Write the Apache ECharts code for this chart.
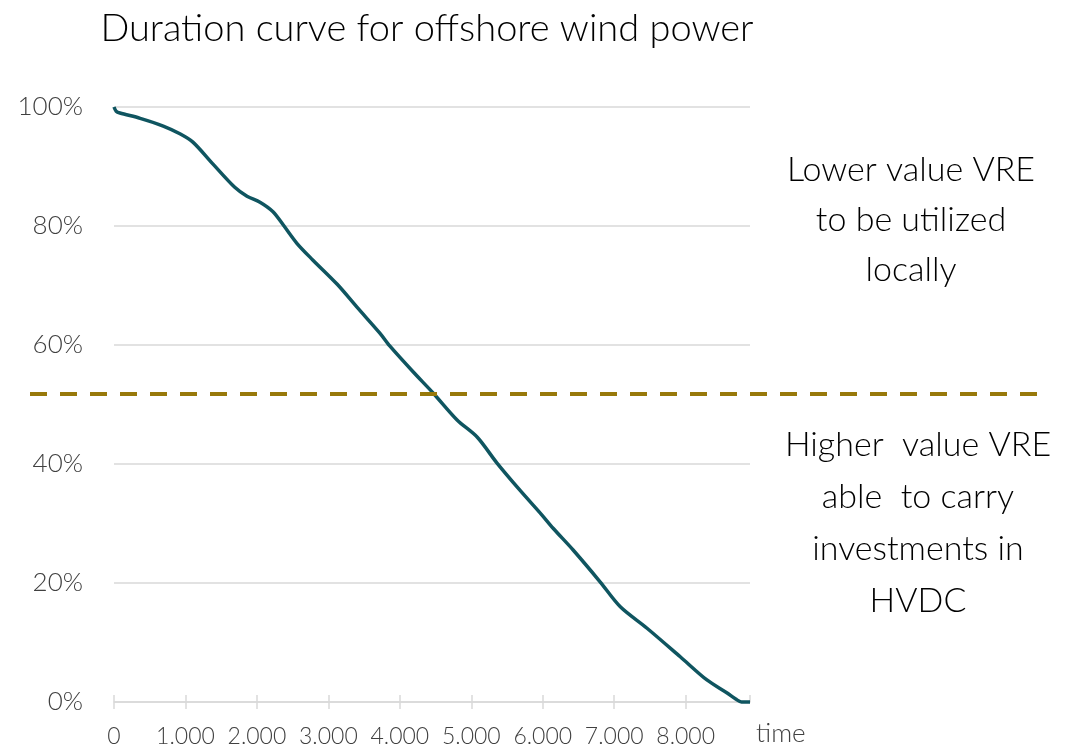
<!DOCTYPE html>
<html>
<head>
<meta charset="utf-8">
<script src="https://cdn.jsdelivr.net/npm/echarts@6/dist/echarts.min.js"></script>
<style>
html,body{margin:0;padding:0;background:#fff;}
#chart{width:1079px;height:748px;}
</style>
</head>
<body>
<div id="chart"></div>
<script>
// Hours of the year (sorted duration) and share of installed capacity (%)
var hours = [0, 30, 83, 366, 689, 922, 1104, 1386, 1690, 1861, 2043, 2225, 2367, 2559, 2781, 3124, 3397, 3720, 3862, 4185, 4468, 4801, 5084, 5357, 5680, 5983, 6145, 6428, 6802, 7085, 7459, 7924, 8297, 8580, 8700, 8780, 8900];
var output = [100, 99.3, 99.0, 98.1, 96.8, 95.5, 94.1, 90.4, 86.5, 85.0, 84.0, 82.4, 80.2, 77.1, 74.3, 70.2, 66.4, 62.0, 59.8, 55.5, 51.9, 47.4, 44.5, 40.2, 35.6, 31.5, 29.2, 25.5, 20.2, 16.0, 12.4, 7.6, 3.7, 1.5, 0.5, 0, 0];
var threshold = 51.8;
var titleText = 'Duration curve for offshore wind power';
var xAxisName = 'time';
var upperNote = 'Lower value VRE\nto be utilized\nlocally';
var lowerNote = 'Higher  value VRE\nable  to carry\ninvestments in\nHVDC';

var seriesData = hours.map(function (h, i) { return [h, output[i]]; });

var FONT = 'Lato, "Open Sans", sans-serif';
var chart = echarts.init(document.getElementById('chart'), null, {renderer: 'canvas'});

function fmtThousands(v) {
  if (v === 0) return '0';
  var s = String(Math.round(v));
  return s.replace(/\B(?=(\d{3})+(?!\d))/g, '.');
}

chart.setOption({
  animation: false,
  backgroundColor: '#ffffff',
  title: {
    text: titleText,
    left: 422,
    textAlign: 'center',
    top: 5,
    textStyle: {fontFamily: FONT, fontWeight: 300, fontSize: 38, color: '#000000'}
  },
  grid: {left: 114, right: 329, top: 107, bottom: 46, containLabel: false},
  xAxis: [{
    type: 'value',
    min: 0,
    max: 8900,
    interval: 1000,
    name: xAxisName,
    nameLocation: 'end',
    nameGap: 6,
    nameTextStyle: {fontFamily: FONT, fontWeight: 300, fontSize: 26, color: '#404040', align: 'left', verticalAlign: 'top', padding: [19, 0, 0, 0]},
    axisLine: {show: true, lineStyle: {color: '#d9d9d9', width: 1.5}},
    axisTick: {show: true, length: 7, lineStyle: {color: '#d9d9d9', width: 1.5}},
    splitLine: {show: false},
    axisLabel: {
      margin: 23,
      fontFamily: FONT, fontWeight: 300, fontSize: 23, color: '#404040',
      formatter: fmtThousands,
      showMaxLabel: false
    }
  }, {
    type: 'value',
    min: 0,
    max: 8900,
    interval: 1000,
    position: 'bottom',
    axisLine: {show: false},
    axisTick: {show: true, inside: true, length: 7, lineStyle: {color: '#d9d9d9', width: 1.5}},
    axisLabel: {show: false},
    splitLine: {show: false}
  }],
  yAxis: {
    type: 'value',
    min: 0,
    max: 100,
    interval: 20,
    axisLine: {show: false},
    axisTick: {show: false},
    splitLine: {show: true, lineStyle: {color: '#d9d9d9', width: 1.5}},
    axisLabel: {
      margin: 31,
      fontFamily: FONT, fontWeight: 300, fontSize: 26, color: '#404040',
      formatter: function (v) { return v + '%'; }
    }
  },
  series: [{
    type: 'line',
    data: seriesData,
    showSymbol: false,
    symbol: 'none',
    smooth: 0.3,
    clip: false,
    lineStyle: {color: '#0f5560', width: 3.5},
    markLine: {
      silent: true,
      symbol: ['none', 'none'],
      label: {show: false},
      lineStyle: {color: '#98790a', width: 4, type: [17, 13], cap: 'butt'},
      data: [[{x: 30, yAxis: threshold}, {x: 1049, yAxis: threshold}]]
    }
  }],
  graphic: [{
    type: 'text',
    style: {
      text: upperNote,
      x: 911, y: 145,
      textAlign: 'center',
      textVerticalAlign: 'top',
      fontFamily: FONT, fontWeight: 300, fontSize: 34, lineHeight: 50,
      fill: '#000000'
    }
  }, {
    type: 'text',
    style: {
      text: lowerNote,
      x: 918, y: 419,
      textAlign: 'center',
      textVerticalAlign: 'top',
      fontFamily: FONT, fontWeight: 300, fontSize: 34, lineHeight: 52,
      fill: '#000000'
    }
  }]
});
</script>
</body>
</html>
